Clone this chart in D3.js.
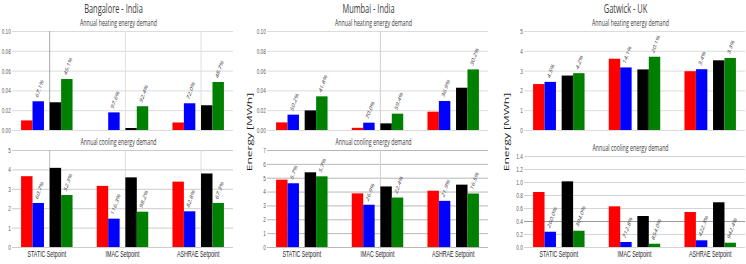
<!DOCTYPE html>
<html>
<head>
<meta charset="utf-8">
<script src="https://cdn.jsdelivr.net/npm/d3@7"></script>
<style>
  body { margin: 0; background: #fff; }
  svg { display: block; font-family: "Open Sans", sans-serif; }
</style>
</head>
<body>
<div id="chart"></div>
<script>
// categories on the x axis of every panel
const categories = ["STATIC Setpoint", "IMAC Setpoint", "ASHRAE Setpoint"];
const cities = ["Bangalore - India", "Mumbai - India", "Gatwick - UK"];

// values per category: [red, blue, black, green] in MWh
const bangaloreHeating = [[0.0097, 0.029, 0.028, 0.0515], [0, 0.0178, 0.002, 0.024], [0.0076, 0.027, 0.025, 0.0485]];
const bangaloreHeatingLabels = [["67.1%", "45.1%"], ["97.6%", "92.4%"], ["72.0%", "48.7%"]];
const bangaloreCooling = [[3.65, 2.27, 4.08, 2.68], [3.15, 1.46, 3.59, 1.82], [3.37, 1.84, 3.79, 2.27]];
const bangaloreCoolingLabels = [["60.7%", "52.3%"], ["116.3%", "98.2%"], ["82.8%", "67.3%"]];

const mumbaiHeating = [[0.0077, 0.0155, 0.0198, 0.034], [0.0022, 0.0074, 0.0067, 0.0165], [0.0185, 0.0293, 0.0427, 0.0612]];
const mumbaiHeatingLabels = [["50.2%", "41.8%"], ["70.0%", "59.4%"], ["36.9%", "30.2%"]];
const mumbaiCooling = [[4.86, 4.6, 5.39, 5.1], [3.87, 3.05, 4.37, 3.57], [4.06, 3.33, 4.5, 3.86]];
const mumbaiCoolingLabels = [["5.7%", "5.7%"], ["26.9%", "22.4%"], ["21.9%", "16.5%"]];

const gatwickHeating = [[2.32, 2.43, 2.75, 2.87], [3.6, 3.16, 3.06, 3.7], [2.97, 3.07, 3.52, 3.64]];
const gatwickHeatingLabels = [["4.5%", "4.2%"], ["14.1%", "20.1%"], ["3.4%", "3.3%"]];
const gatwickCooling = [[0.846, 0.235, 1.01, 0.25], [0.626, 0.077, 0.477, 0.05], [0.538, 0.103, 0.688, 0.066]];
const gatwickCoolingLabels = [["260.0%", "304.0%"], ["712.8%", "854.0%"], ["422.3%", "942.4%"]];

// tick values
const heatTicksSmall = [0, 0.02, 0.04, 0.06, 0.08, 0.10];
const heatTicksGatwick = [0, 1, 2, 3, 4, 5];
const coolTicksBangalore = [0, 1, 2, 3, 4, 5];
const coolTicksMumbai = [0, 1, 2, 3, 4, 5, 6, 7];
const coolTicksGatwick = [0, 0.2, 0.4, 0.6, 0.8, 1.0, 1.2, 1.4];

const colors = ["#ff0000", "#0000ff", "#000000", "#008000"];
const slots = [0, 1, 2.5, 3.5];
const SX = 0.62; // the source figure is squeezed horizontally

const svg = d3.select("#chart").append("svg")
  .attr("width", 746)
  .attr("height", 264);

const columns = [
  { left: 12, right: 233, ylabel: false,
    heat: { data: bangaloreHeating, labels: bangaloreHeatingLabels, ticks: heatTicksSmall, max: 0.10, fmt: ".2f", grid: "#dcdcdc", vlines: ["#a6a6a6", "#e0e0e0", "#e0e0e0"] },
    cool: { data: bangaloreCooling, labels: bangaloreCoolingLabels, ticks: coolTicksBangalore, max: 5, fmt: "d", grid: "#cccccc", vlines: ["#bdbdbd", "#dcdcdc", "#dcdcdc"] } },
  { left: 267, right: 488, ylabel: true,
    heat: { data: mumbaiHeating, labels: mumbaiHeatingLabels, ticks: heatTicksSmall, max: 0.10, fmt: ".2f", grid: "#dcdcdc", vlines: [null, "#cfcfcf", null] },
    cool: { data: mumbaiCooling, labels: mumbaiCoolingLabels, ticks: coolTicksMumbai, max: 7, fmt: "d", grid: "#b8b8b8", vlines: [null, "#cfcfcf", null] } },
  { left: 524, right: 745, ylabel: true,
    heat: { data: gatwickHeating, labels: gatwickHeatingLabels, ticks: heatTicksGatwick, max: 5, fmt: "d", grid: "#dcdcdc", vlines: [null, null, null] },
    cool: { data: gatwickCooling, labels: gatwickCoolingLabels, ticks: coolTicksGatwick, max: 1.4, fmt: ".1f", grid: "#d4d4d4", vlines: [null, null, null], dark: 0.4 } }
];

function drawPanel(p, left, right, top, bottom, subtitle, showCats) {
  const x0 = d3.scaleBand().domain(categories).range([left, right])
    .paddingInner(0.32).paddingOuter(0.12);
  const x1 = d3.scaleLinear().domain([0, 4.5]).range([0, x0.bandwidth()]);
  const bw = x1(1) - x1(0);
  const y = d3.scaleLinear().domain([0, p.max]).range([bottom, top]);

  // gridlines + tick labels
  const ga = svg.append("g")
    .attr("transform", `translate(${left},0)`)
    .call(d3.axisLeft(y).tickValues(p.ticks).tickFormat(d3.format(p.fmt))
      .tickSize(-(right - left)).tickPadding(2));
  ga.select(".domain").remove();
  ga.selectAll("line")
    .attr("stroke", d => (p.dark !== undefined && Math.abs(d - p.dark) < 1e-9) ? "#9a9a9a" : p.grid);
  ga.selectAll("text")
    .attr("fill", "#595959")
    .attr("font-size", 7.5)
    .attr("transform", `scale(${SX},1)`);

  // light vertical lines at pair separators
  categories.forEach((c, i) => {
    if (!p.vlines[i]) return;
    const vx = x0(c) + x1(2.5);
    svg.append("line")
      .attr("x1", vx).attr("x2", vx)
      .attr("y1", top).attr("y2", bottom)
      .attr("stroke", p.vlines[i]);
  });

  // bars
  const groups = svg.append("g").selectAll("g")
    .data(categories)
    .join("g")
    .attr("transform", c => `translate(${x0(c)},0)`);

  groups.selectAll("rect")
    .data((c, i) => p.data[i].map((v, j) => ({ v, j })))
    .join("rect")
    .attr("x", d => x1(slots[d.j]))
    .attr("width", bw)
    .attr("y", d => y(d.v))
    .attr("height", d => bottom - y(d.v))
    .attr("fill", d => colors[d.j]);

  // percentage labels above blue and green bars
  groups.selectAll("text.pct")
    .data((c, i) => [1, 3].map((j, k) => ({ j, v: p.data[i][j], t: p.labels[i][k] })))
    .join("text")
    .attr("class", "pct")
    .attr("transform", d => `translate(${x1(slots[d.j] + 0.45)},${y(d.v) - 3}) scale(${SX},1) rotate(-60)`)
    .attr("font-size", 7)
    .attr("fill", "#333")
    .text(d => d.t);

  // subtitle
  svg.append("text")
    .attr("transform", `translate(${(left + right) / 2 - 4},${top - 5}) scale(${SX},1)`)
    .attr("text-anchor", "middle")
    .attr("font-size", 8.5)
    .attr("fill", "#404040")
    .text(subtitle);

  if (showCats) {
    const xa = svg.append("g")
      .attr("transform", `translate(0,${bottom})`)
      .call(d3.axisBottom(x0).tickSize(0).tickPadding(4));
    xa.select(".domain").remove();
    xa.selectAll("text")
      .attr("fill", "#262626")
      .attr("font-size", 8.5)
      .attr("transform", `scale(${SX},1)`);
  }
}

columns.forEach((col, k) => {
  const center = (col.left + col.right) / 2;

  svg.append("text")
    .attr("transform", `translate(${center - 9},13) scale(${SX},1)`)
    .attr("text-anchor", "middle")
    .attr("font-size", 12)
    .attr("fill", "#404040")
    .text(cities[k]);

  drawPanel(col.heat, col.left, col.right, 31, 130, "Annual heating energy demand", false);
  const coolTop = col.cool.max === 1.4 ? 156 : 150;
  drawPanel(col.cool, col.left, col.right, coolTop, 247, "Annual cooling energy demand", true);

  // shared y label between the two panels (Bangalore's falls off the left edge)
  if (col.ylabel) {
    svg.append("text")
      .attr("transform", `translate(${col.left - 15},132) scale(${SX},1) rotate(-90)`)
      .attr("text-anchor", "middle")
      .attr("font-size", 12)
      .attr("fill", "#1a1a1a")
      .text("Energy [MWh]");
  }
});
</script>
</body>
</html>
